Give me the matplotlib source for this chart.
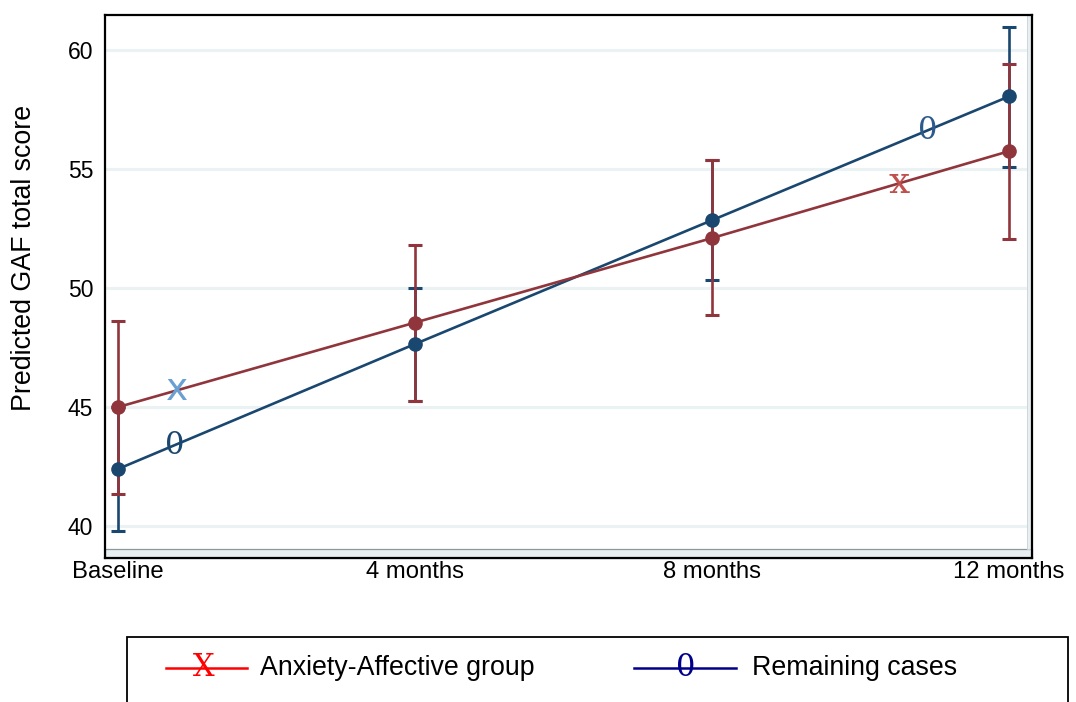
import numpy as np
import matplotlib.pyplot as plt
from matplotlib.patches import Rectangle
from matplotlib.lines import Line2D

plt.rcParams['font.family'] = ['Liberation Sans', 'DejaVu Sans']

# time points and predicted GAF scores (with 95% CI bounds)
timepoints = ['Baseline', '4 months', '8 months', '12 months']
anx_mean = [45.0, 48.55, 52.1, 55.75]
anx_low = [41.35, 45.25, 48.85, 52.05]
anx_high = [48.6, 51.8, 55.4, 59.4]
rem_mean = [42.4, 47.65, 52.85, 58.05]
rem_low = [39.8, 45.25, 50.35, 55.1]
rem_high = [45.0, 50.0, 55.4, 60.95]

red = '#90353B'
blue = '#1A476F'

fig = plt.figure(figsize=(10.76, 7.02), dpi=100)
ax = fig.add_axes([0.0976, 0.2051, 0.8615, 0.7735])
x = np.arange(len(timepoints))

for mean, low, high, col in [(rem_mean, rem_low, rem_high, blue),
                             (anx_mean, anx_low, anx_high, red)]:
    mean = np.array(mean)
    err = [mean - np.array(low), np.array(high) - mean]
    ax.errorbar(x, mean, yerr=err, fmt='none', ecolor=col, elinewidth=1.9,
                capsize=5, capthick=2.2, zorder=3)
for mean, col in [(rem_mean, blue), (anx_mean, red)]:
    ax.plot(x, mean, '-', color=col, lw=1.9, zorder=4)
for mean, col in [(rem_mean, blue), (anx_mean, red)]:
    ax.plot(x, mean, 'o', color=col, ms=9.5, zorder=5)

# symbol labels sitting on the lines
for xs, txt, col, fam, fs, mean in [(0.2, 'x', '#6A9FD2', 'DejaVu Sans', 27, anx_mean),
                                    (0.19, '0', blue, 'DejaVu Serif', 22, rem_mean),
                                    (2.63, 'x', '#C0504D', 'DejaVu Serif', 27, anx_mean),
                                    (2.725, '0', '#2C5A8C', 'DejaVu Serif', 22, rem_mean)]:
    ax.text(xs, np.interp(xs, x, mean), txt, color=col, fontsize=fs,
            family=fam, ha='center', va='center', zorder=6)

ax.set_xlim(-0.0438, 3.0774)
ax.set_ylim(38.66, 61.47)
ax.set_yticks([40, 45, 50, 55, 60])
ax.set_xticks(x)
ax.set_xticklabels(timepoints, fontsize=17.2)
ax.tick_params(axis='y', length=0, pad=8.5, labelsize=16.5)
ax.tick_params(axis='x', direction='in', length=6, width=1, color='#333333', pad=2)
ax.grid(axis='y', color='#EAF2F3', lw=2.2, zorder=0)
ax.set_axisbelow(True)
for s in ax.spines.values():
    s.set_linewidth(1.6)
    s.set_zorder(10)

# light inner plot-region bands (bottom and right)
ax.add_patch(Rectangle((0, 0), 1, 0.0166, transform=ax.transAxes, facecolor='#E8EFF1',
                       edgecolor='#8E979B', lw=0.9, zorder=1, clip_on=False))
ax.add_patch(Rectangle((0.9946, 0.0166), 0.0054, 0.9834, transform=ax.transAxes,
                       facecolor='#E8EFF1', edgecolor='#C9D2D5', lw=0.6, zorder=1, clip_on=False))

fig.text(24 / 1076, 1 - 258 / 702, 'Predicted GAF total score', rotation=90,
         ha='center', va='center', fontsize=19.3)

# legend box
fig.patches.append(Rectangle((127 / 1076, -0.05), 941 / 1076, 0.05 + 65 / 702,
                             transform=fig.transFigure, facecolor='white',
                             edgecolor='black', lw=1.3))
ly = 1 - 668 / 702
fig.lines.append(Line2D([166 / 1076, 247 / 1076], [ly, ly], color='#FF0000', lw=1.8,
                        transform=fig.transFigure))
fig.text(204 / 1076, ly, 'X', color='#FF0000', fontsize=22, family='DejaVu Serif',
         ha='center', va='center')
fig.text(260 / 1076, ly, 'Anxiety-Affective group', fontsize=19.3, ha='left', va='center')
fig.lines.append(Line2D([634 / 1076, 736 / 1076], [ly, ly], color='#00008B', lw=1.8,
                        transform=fig.transFigure))
fig.text(686 / 1076, ly, '0', color='#00008B', fontsize=22, family='DejaVu Serif',
         ha='center', va='center')
fig.text(752 / 1076, ly, 'Remaining cases', fontsize=19.3, ha='left', va='center')

fig.savefig('out.png', dpi=100)
